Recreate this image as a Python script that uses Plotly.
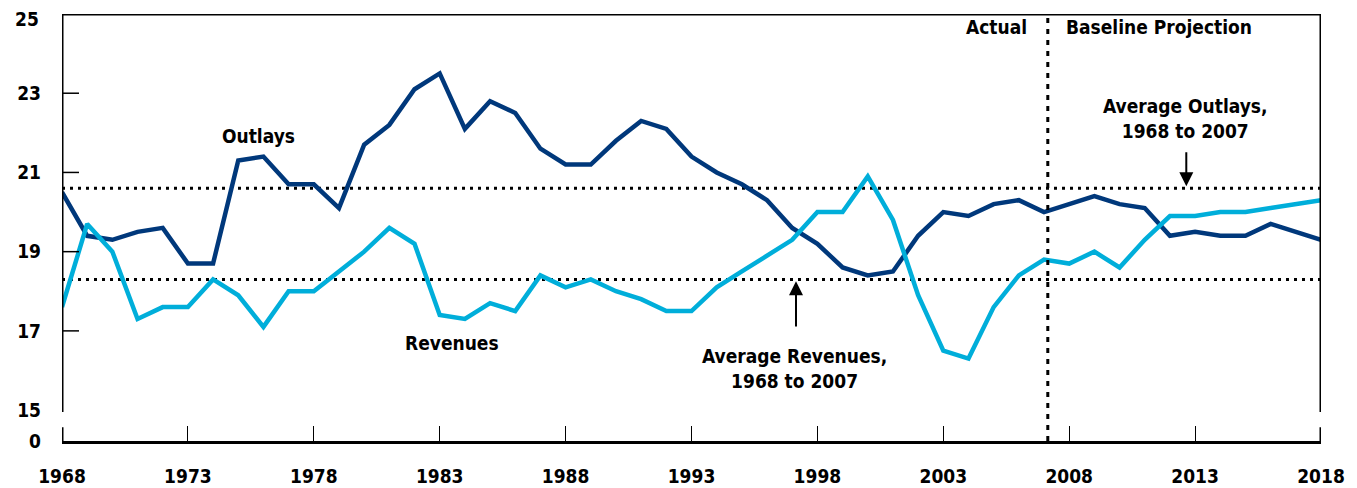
import plotly.graph_objects as go

years = list(range(1968, 2019))
outlays = [20.5, 19.4, 19.3, 19.5, 19.6, 18.7, 18.7, 21.3, 21.4, 20.7,
           20.7, 20.1, 21.7, 22.2, 23.1, 23.5, 22.1, 22.8, 22.5, 21.6,
           21.2, 21.2, 21.8, 22.3, 22.1, 21.4, 21.0, 20.7, 20.3, 19.6,
           19.2, 18.6, 18.4, 18.5, 19.4, 20.0, 19.9, 20.2, 20.3, 20.0,
           20.2, 20.4, 20.2, 20.1, 19.4, 19.5, 19.4, 19.4, 19.7, 19.5, 19.3]
revenues = [17.6, 19.7, 19.0, 17.3, 17.6, 17.6, 18.3, 17.9, 17.1, 18.0,
            18.0, 18.5, 19.0, 19.6, 19.2, 17.4, 17.3, 17.7, 17.5, 18.4,
            18.1, 18.3, 18.0, 17.8, 17.5, 17.5, 18.1, 18.5, 18.9, 19.3,
            20.0, 20.0, 20.9, 19.8, 17.9, 16.5, 16.3, 17.6, 18.4, 18.8,
            18.7, 19.0, 18.6, 19.3, 19.9, 19.9, 20.0, 20.0, 20.1, 20.2, 20.3]

avg_outlays = 20.6
avg_revenues = 18.3
split_year = 2007.15

x_ticks = [1968, 1973, 1978, 1983, 1988, 1993, 1998, 2003, 2008, 2013, 2018]
y_tickvals = [14.22, 15, 17, 19, 21, 23, 25]
y_ticktext = ["0", "15", "17", "19", "21", "23", "25"]
y_inner_ticks = [17, 19, 21, 23]

FONT = "Liberation Sans Narrow, DejaVu Sans Condensed, Arial Narrow, sans-serif"
FS = 19
NAVY = "#00387B"
CYAN = "#00AEDA"

x0, x1 = years[0], years[-1]
y0, y1 = y_tickvals[0], y_tickvals[-1]

fig = go.Figure()
fig.add_trace(go.Scatter(x=years, y=outlays, mode="lines",
                         line=dict(color=NAVY, width=4.5), name="Outlays"))
fig.add_trace(go.Scatter(x=years, y=revenues, mode="lines",
                         line=dict(color=CYAN, width=4.5), name="Revenues"))

shapes = []
for v in (avg_outlays, avg_revenues):
    shapes.append(dict(type="line", xref="x", yref="y", x0=x0, x1=x1, y0=v, y1=v,
                       line=dict(color="black", width=3, dash="3px,5px"), layer="below"))
shapes.append(dict(type="line", xref="x", yref="y", x0=split_year, x1=split_year, y0=y0, y1=y1,
                   line=dict(color="black", width=3, dash="5px,6px")))
brk_top = 14.95
brk_bot = 14.57
for xv in (x0, x1):
    shapes.append(dict(type="line", xref="x", yref="y", x0=xv, x1=xv, y0=brk_top, y1=y1,
                       line=dict(color="black", width=3)))
    shapes.append(dict(type="line", xref="x", yref="y", x0=xv, x1=xv, y0=y0, y1=brk_bot,
                       line=dict(color="black", width=3)))
shapes.append(dict(type="line", xref="x", yref="y", x0=x0, x1=x1, y0=y1, y1=y1,
                   line=dict(color="black", width=3)))
for t in y_inner_ticks:
    shapes.append(dict(type="line", xref="paper", yref="y", x0=0, x1=17 / 1259, y0=t, y1=t,
                       line=dict(color="black", width=1.5)))

fig.update_layout(shapes=shapes)

ann_font = dict(family=FONT, size=FS, color="black", weight="bold")
annotations = [
    dict(x=1975.8, y=21.93, text="Outlays", showarrow=False, font=ann_font),
    dict(x=1983.47, y=16.7, text="Revenues", showarrow=False, font=ann_font),
    dict(x=1997.1, y=16.05, text="Average Revenues,<br>1968 to 2007", showarrow=False,
         font=ann_font, align="center"),
    dict(x=2012.6, y=22.37, text="Average Outlays,<br>1968 to 2007", showarrow=False,
         font=ann_font, align="center"),
    dict(x=2006.42, y=24.67, text="Actual", showarrow=False, font=ann_font, xanchor="right"),
    dict(x=2007.78, y=24.67, text="Baseline Projection", showarrow=False, font=ann_font,
         xanchor="left"),
    dict(x=1997.15, y=avg_revenues - 0.05, ax=1997.15, ay=17.07, axref="x", ayref="y",
         xref="x", yref="y", text="", showarrow=True, arrowhead=2, arrowsize=1.4,
         arrowwidth=2, arrowcolor="black"),
    dict(x=2012.65, y=avg_outlays + 0.05, ax=2012.65, ay=21.55, axref="x", ayref="y",
         xref="x", yref="y", text="", showarrow=True, arrowhead=2, arrowsize=1.4,
         arrowwidth=2, arrowcolor="black"),
    # top y label, nudged slightly down so it is not clipped by the page edge
    dict(xref="paper", x=0, xanchor="right", xshift=-21, yref="y", y=y_tickvals[-1],
         yshift=-5, text=y_ticktext[-1], showarrow=False, font=ann_font),
]
fig.update_layout(annotations=annotations)

fig.update_xaxes(range=[x0, x1], tickvals=x_ticks, ticktext=[str(v) for v in x_ticks],
                 ticks="inside", ticklen=15, tickwidth=1, tickcolor="black",
                 showline=True, linecolor="black", linewidth=3, showgrid=False,
                 zeroline=False, ticklabelstandoff=16, automargin=False,
                 ticklabeloverflow="allow",
                 tickfont=dict(family=FONT, size=FS, color="black", weight="bold"))
fig.update_yaxes(range=[y0, y1], tickvals=y_tickvals[:-1], ticktext=y_ticktext[:-1],
                 ticks="", showline=False, showgrid=False, zeroline=False,
                 ticklabelstandoff=20, automargin=False, ticklabeloverflow="allow",
                 tickfont=dict(family=FONT, size=FS, color="black", weight="bold"))

# page body has an 8px margin: size and margins compensate so the plot area lands on
# x 62..1321, y 14..441 of the window
fig.update_layout(width=1349, height=480, margin=dict(l=54, r=36, t=6, b=47),
                  plot_bgcolor="white", paper_bgcolor="white", showlegend=False)

fig.write_html("out.html")
